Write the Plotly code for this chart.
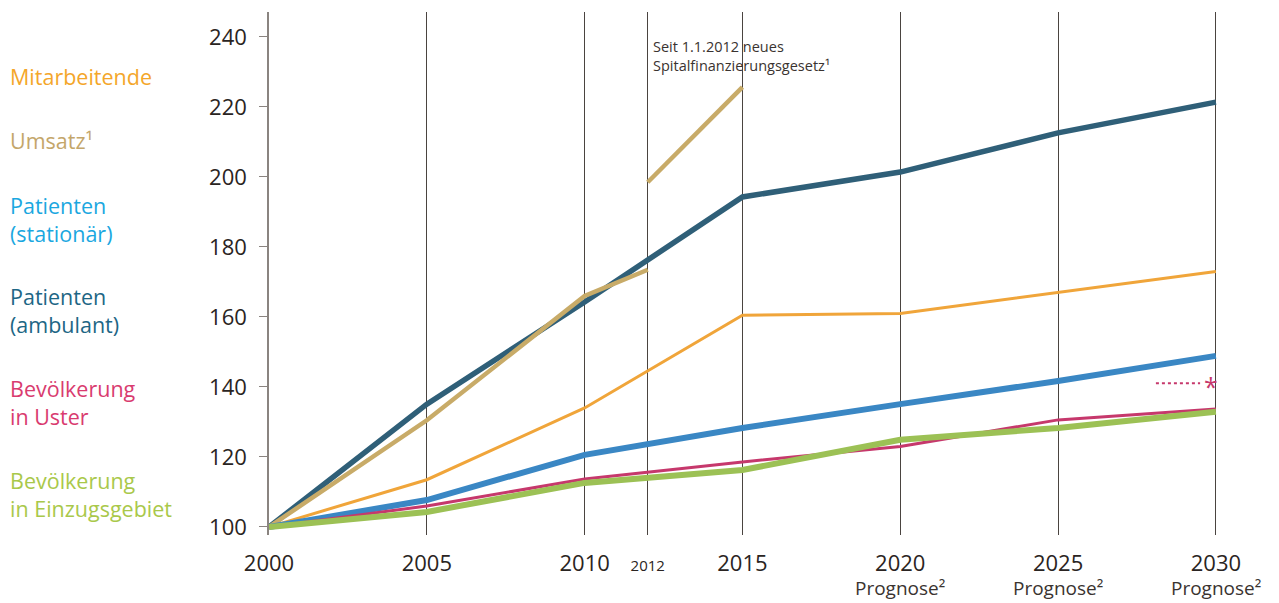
import plotly.graph_objects as go

# ---------------- data ----------------
YEARS = [2000, 2005, 2010, 2015, 2020, 2025, 2030]
MITARBEITENDE = [100, 113.5, 134, 160.5, 161, 167, 173]
PAT_STATIONAER = [100, 107.7, 120.6, 128.3, 135.1, 141.7, 148.9]
PAT_AMBULANT = [100, 135.1, 164.3, 194.3, 201.4, 212.6, 221.4]
BEV_USTER = [100, 106, 113.7, 118.6, 123, 130.6, 133.7]
BEV_EINZUG = [100, 104.3, 112.6, 116.3, 124.9, 128.3, 132.9]
UMSATZ_ALT_YEARS = [2000, 2005, 2010, 2012]
UMSATZ_ALT = [100, 130.5, 166, 173.5]
UMSATZ_NEU_YEARS = [2012, 2015]
UMSATZ_NEU = [198.5, 225.7]
STAR_X = [2028.1, 2029.5]
STAR_Y = [141.1, 141.1]

TICK_VALS = [2000, 2005, 2010, 2012, 2015, 2020, 2025, 2030]
TICK_TEXT = ["2000", "2005", "2010", "2012", "2015", "2020", "2025", "2030"]
PROGNOSE_YEARS = [2020, 2025, 2030]
Y_TICKS = [100, 120, 140, 160, 180, 200, 220, 240]

LEGEND_NAMES = ["Mitarbeitende", "Umsatz¹", "Patienten<br>(stationär)",
                "Patienten<br>(ambulant)", "Bevölkerung<br>in Uster",
                "Bevölkerung<br>in Einzugsgebiet"]

# ---------------- style ----------------
FONT = "Open Sans"
W, H = 1279, 603
ML, MR, MT, MB = 269, 0, 12, 68
C_ORANGE = "#f0a53a"
C_TAN = "#c8ab68"
C_BLUE = "#3a87c4"
C_TEAL = "#2f5f78"
C_PINK = "#c6386c"
C_GREEN = "#9cc155"
LEGEND_COLORS = ["#f4a62a", "#c4a66a", "#1aa7e0", "#1d6685", "#d93b6f", "#a9c84a"]
LEGEND_Y_PX = [76, 140, 219, 310, 402, 494]

fig = go.Figure()

def line(x, y, color, width, dash="solid"):
    fig.add_trace(go.Scatter(x=x, y=y, mode="lines",
                             line=dict(color=color, width=width, dash=dash),
                             hoverinfo="skip", showlegend=False))

line(YEARS, PAT_AMBULANT, C_TEAL, 5.5)
line(UMSATZ_ALT_YEARS, UMSATZ_ALT, C_TAN, 4.5)
line(UMSATZ_NEU_YEARS, UMSATZ_NEU, C_TAN, 4.5)
line(YEARS, MITARBEITENDE, C_ORANGE, 3)
line(YEARS, PAT_STATIONAER, C_BLUE, 6)
line(YEARS, BEV_USTER, C_PINK, 3)
line(YEARS, BEV_EINZUG, C_GREEN, 6)
line(STAR_X, STAR_Y, C_PINK, 2, dash="dot")

annotations = []
annotations.append(dict(x=STAR_X[-1] + 0.05, y=STAR_Y[0], xref="x", yref="y",
                        text="*", showarrow=False, xanchor="left", yanchor="middle",
                        yshift=-3,
                        font=dict(family=FONT, size=25, color=C_PINK)))

plot_w = W - ML - MR
plot_h = H - MT - MB
for name, col, ypx in zip(LEGEND_NAMES, LEGEND_COLORS, LEGEND_Y_PX):
    annotations.append(dict(
        x=(8 - ML) / plot_w, y=1 - (ypx - MT) / plot_h,
        xref="paper", yref="paper", text=name, showarrow=False,
        xanchor="left", yanchor="middle", align="left",
        font=dict(family=FONT, size=21.5, color=col)))

for yr in PROGNOSE_YEARS:
    annotations.append(dict(
        x=yr, y=1 - (588 - MT) / plot_h, xref="x", yref="paper",
        text="Prognose²", showarrow=False,
        xanchor="center", yanchor="middle",
        font=dict(family=FONT, size=19, color="#3a3330")))

annotations.append(dict(
    x=2012, y=240.5, xref="x", yref="y", xshift=3,
    text="Seit 1.1.2012 neues<br>Spitalfinanzierungsgesetz¹",
    showarrow=False, xanchor="left", yanchor="top", align="left",
    font=dict(family=FONT, size=14.5, color="#3a3330")))

tick_text = [f"<span style='font-size:15px'>{t}</span>" if t == "2012" else t
             for t in TICK_TEXT]

fig.update_layout(
    width=W, height=H,
    margin=dict(l=ML, r=MR, t=MT, b=MB),
    paper_bgcolor="white", plot_bgcolor="white",
    annotations=annotations,
    xaxis=dict(range=[2000, 2032], tickvals=TICK_VALS, ticktext=tick_text,
               showgrid=True, gridcolor="#4a4440", gridwidth=1,
               zeroline=False, showline=False, ticks="",
               ticklabelstandoff=13,
               tickfont=dict(family=FONT, size=22, color="#2a2422")),
    yaxis=dict(range=[97.71, 247.14], tickvals=Y_TICKS,
               showgrid=False, zeroline=False,
               showline=True, linecolor="#8a8480", linewidth=1.5,
               ticks="outside", ticklen=8, tickcolor="#8a8480",
               ticklabelstandoff=8,
               tickfont=dict(family=FONT, size=22, color="#2a2422")),
)

fig.write_html("out.html")
